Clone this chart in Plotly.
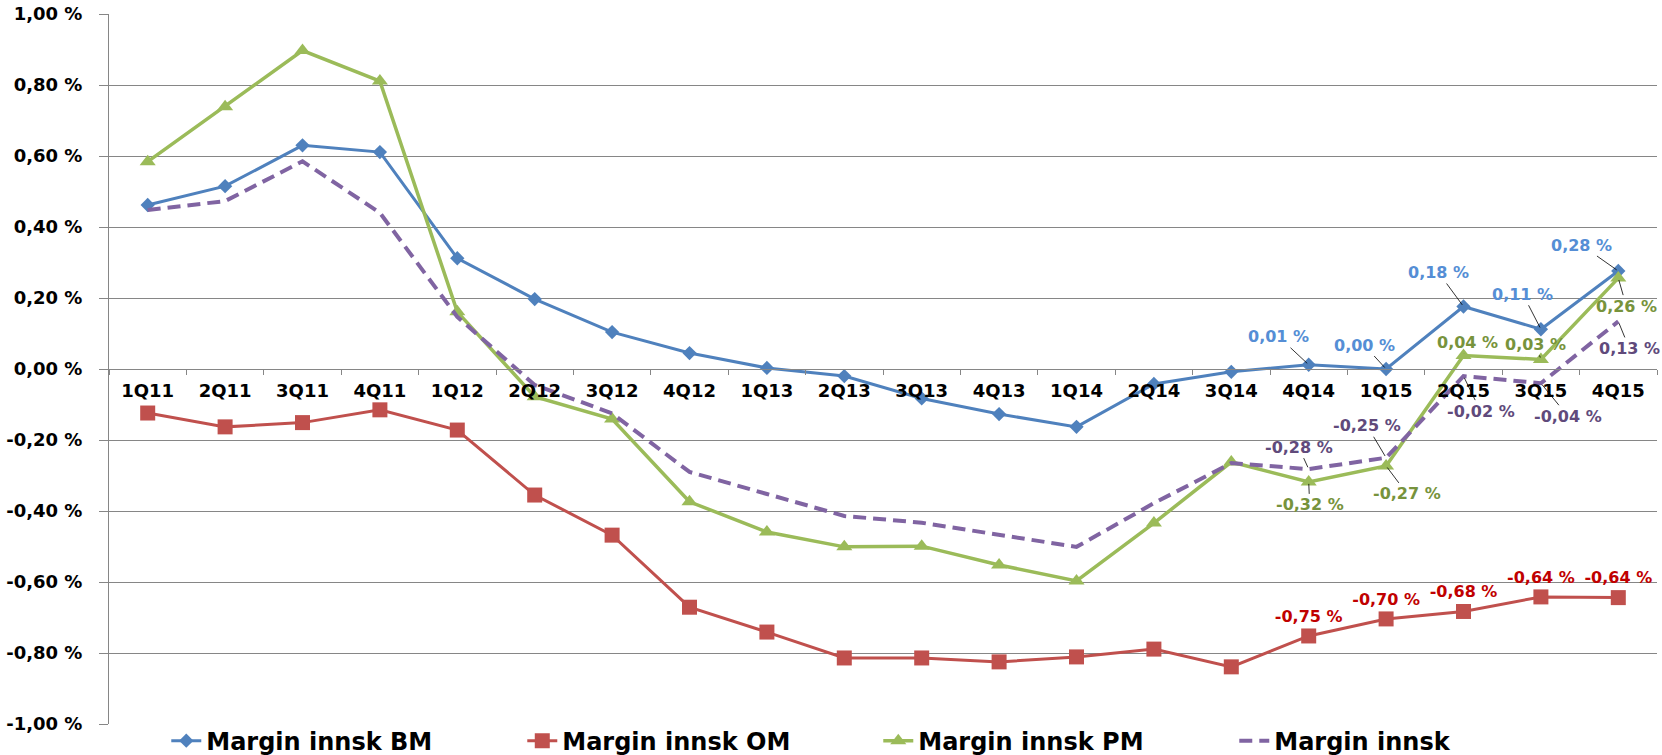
import plotly.graph_objects as go

# Kvartaler og marginer (prosentpoeng)
quarters = ["1Q11", "2Q11", "3Q11", "4Q11", "1Q12", "2Q12", "3Q12", "4Q12",
            "1Q13", "2Q13", "3Q13", "4Q13", "1Q14", "2Q14", "3Q14", "4Q14",
            "1Q15", "2Q15", "3Q15", "4Q15"]

margin_bm = [0.462, 0.515, 0.630, 0.611, 0.312, 0.197, 0.104, 0.045, 0.003, -0.020,
             -0.083, -0.127, -0.163, -0.042, -0.008, 0.012, 0.000, 0.176, 0.112, 0.276]
margin_om = [-0.124, -0.163, -0.151, -0.115, -0.172, -0.355, -0.468, -0.671, -0.741, -0.814,
             -0.814, -0.825, -0.811, -0.789, -0.839, -0.752, -0.704, -0.683, -0.642, -0.644]
margin_pm = [0.584, 0.739, 0.897, 0.811, 0.161, -0.078, -0.141, -0.374, -0.459, -0.501,
             -0.499, -0.552, -0.597, -0.434, -0.262, -0.318, -0.273, 0.038, 0.027, 0.256]
margin_innsk = [0.448, 0.473, 0.585, 0.440, 0.147, -0.045, -0.125, -0.290, -0.352, -0.414,
                -0.433, -0.468, -0.501, -0.378, -0.265, -0.282, -0.250, -0.020, -0.040, 0.134]

y_ticks = [1.0, 0.8, 0.6, 0.4, 0.2, 0.0, -0.2, -0.4, -0.6, -0.8, -1.0]

# de siste fem kvartalene har dataetiketter
labelled = list(range(15, 20))


def pct(v):
    s = f"{v:.2f} %".replace(".", ",")
    return "0,00 %" if s == "-0,00 %" else s


FONT = "DejaVu Sans"
GRID = "#868686"

fig = go.Figure()

fig.add_trace(go.Scatter(
    x=quarters, y=margin_bm, name="Margin innsk BM", mode="lines+markers",
    line=dict(color="#4F81BD", width=3),
    marker=dict(symbol="diamond", size=11, color="#4F81BD"),
))
fig.add_trace(go.Scatter(
    x=quarters, y=margin_om, name="Margin innsk OM", mode="lines+markers+text",
    line=dict(color="#C0504D", width=3),
    marker=dict(symbol="square", size=15, color="#C0504D"),
    text=[pct(v) if i in labelled else "" for i, v in enumerate(margin_om)],
    textposition="top center",
    textfont=dict(family=FONT, size=16, color="#C00000", weight="bold"),
))
fig.add_trace(go.Scatter(
    x=quarters, y=margin_pm, name="Margin innsk PM", mode="lines+markers",
    line=dict(color="#9BBB59", width=3.5),
    marker=dict(symbol="triangle-up", size=14, color="#9BBB59"),
))
fig.add_trace(go.Scatter(
    x=quarters, y=margin_innsk, name="Margin innsk", mode="lines",
    line=dict(color="#8064A2", width=4, dash="13px,7px"),
))

# etiketter med hjelpelinjer (forskyvning i piksler)
label_sets = [
    (margin_bm, "#558ED5", [(-30, -28), (-22, -24), (-25, -34), (-18, -35), (-37, -26)]),
    (margin_pm, "#77933C", [(1, 23), (21, 28), (4, -13), (-5, -15), (8, 28)]),
    (margin_innsk, "#604A7B", [(-10, -22), (-19, -32), (17, 35), (27, 33), (11, 27)]),
]
annotations = []
for values, color, offsets in label_sets:
    for i, (ax, ay) in zip(labelled, offsets):
        annotations.append(dict(
            x=quarters[i], y=values[i], text=pct(values[i]),
            showarrow=True, arrowhead=0, arrowwidth=0.8, arrowcolor="black",
            ax=ax, ay=ay, standoff=2,
            font=dict(family=FONT, size=16, color=color, weight="bold"),
        ))

fig.update_layout(
    width=1662, height=755,
    margin=dict(l=109, r=5, t=14, b=31, autoexpand=False),
    plot_bgcolor="white", paper_bgcolor="white",
    annotations=annotations,
    showlegend=True,
    legend=dict(
        orientation="h", x=0.037, xanchor="left", y=-0.024, yanchor="middle",
        font=dict(family=FONT, size=24, color="black", weight="bold"),
        entrywidth=311, entrywidthmode="pixels",
        bgcolor="rgba(0,0,0,0)",
    ),
    xaxis=dict(
        type="category", range=[-0.5, 19.5],
        anchor="free", position=0.5,
        showline=True, linecolor=GRID, linewidth=1,
        ticks="outside", tickson="boundaries", ticklen=5, tickcolor=GRID,
        showgrid=False, ticklabelstandoff=5,
        tickfont=dict(family=FONT, size=18, color="black", weight="bold"),
    ),
    yaxis=dict(
        range=[-1.0, 1.0],
        tickvals=y_ticks, ticktext=[pct(v) for v in y_ticks],
        showline=True, linecolor=GRID, linewidth=1,
        ticks="outside", ticklen=9, tickcolor=GRID,
        showgrid=True, gridcolor=GRID, gridwidth=1,
        zeroline=False, ticklabelstandoff=13, ticklabeloverflow="allow",
        tickfont=dict(family=FONT, size=18, color="black", weight="bold"),
    ),
)

# fjern standardmargen i <body> så figuren fyller vinduet
fig.write_html("out.html", config={"displayModeBar": False},
               post_script="document.body.style.margin='0';")
